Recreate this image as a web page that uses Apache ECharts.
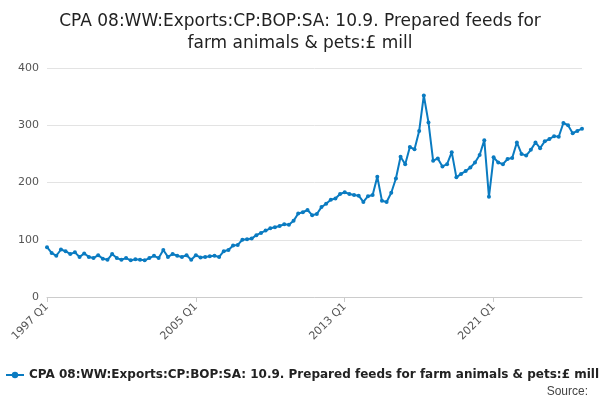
<!DOCTYPE html>
<html>
<head>
<meta charset="utf-8">
<script src="https://cdn.jsdelivr.net/npm/echarts@6/dist/echarts.min.js"></script>
<style>html,body{margin:0;padding:0;background:#fff}#c{width:600px;height:400px}</style>
</head>
<body>
<div id="c"></div>
<script>
// quarterly values, 1997 Q1 .. 2026 Q1
const seriesName = 'CPA 08:WW:Exports:CP:BOP:SA: 10.9. Prepared feeds for farm animals & pets:£ mill'
const values = [
  87, 77, 72, 83, 80, 75, 78, 70, 76, 70, 68, 73, 67, 65, 75, 68,
  65, 68, 64, 66, 65, 64, 68, 72, 68, 82, 70, 75, 72, 70, 73, 65,
  73, 69, 70, 71, 72, 70, 80, 82, 90, 91, 100, 101, 102, 108,
  112, 116, 120, 122, 124, 127, 126, 133, 146, 148, 152, 143, 145, 157, 163,
  170, 172, 180, 183, 180, 178, 177, 166, 176, 178, 210, 168, 166, 182, 207, 245,
  232, 262, 258, 290, 352, 305, 238, 242, 228, 232, 253, 209, 215, 220, 226, 235,
  248, 274, 175, 244, 235, 232, 241, 243, 270, 250, 247, 257, 270, 260, 272, 276,
  281, 280, 304, 300, 286, 290, 294
]
const categories = []
for (let y = 1997; categories.length < values.length; y++) {
  for (let q = 1; q <= 4 && categories.length < values.length; q++) categories.push(y + ' Q' + q)
}
const tickLabels = ['1997 Q1', '2005 Q1', '2013 Q1', '2021 Q1', '2026 Q1']

const chart = echarts.init(document.getElementById('c'))
chart.setOption({
  textStyle: { fontFamily: 'DejaVu Sans' },
  title: {
    text: 'CPA 08:WW:Exports:CP:BOP:SA: 10.9. Prepared feeds for\nfarm animals & pets:£ mill',
    left: 'center', top: 6,
    textStyle: { fontSize: 17, fontWeight: 'normal', color: '#222', lineHeight: 22 }
  },
  grid: { left: 47, right: 18, top: 68, bottom: 103 },
  legend: {
    bottom: 14, left: 0, itemWidth: 18, itemHeight: 8,
    textStyle: { fontSize: 12, fontWeight: 'bold', color: '#222' }
  },
  graphic: [{ type: 'text', right: 12, bottom: 2, style: { text: 'Source:', fontSize: 12, fill: '#444' } }],
  xAxis: {
    type: 'category', data: categories, boundaryGap: false,
    axisLine: { lineStyle: { color: '#ccc' } },
    axisTick: { alignWithLabel: true, interval: (i, v) => tickLabels.includes(v), lineStyle: { color: '#ccc' } },
    axisLabel: {
      interval: (i, v) => tickLabels.includes(v), rotate: 45, color: '#555', fontSize: 11,
      showMaxLabel: true, showMinLabel: true, hideOverlap: false
    }
  },
  yAxis: {
    type: 'value', min: 0, max: 400, interval: 100,
    axisLabel: { color: '#555', fontSize: 11 },
    splitLine: { lineStyle: { color: '#e3e3e3' } }
  },
  series: [{
    name: seriesName, type: 'line', data: values,
    symbol: 'circle', symbolSize: 4, showAllSymbol: true,
    itemStyle: { color: '#0a7bc1' }, lineStyle: { width: 2, color: '#0a7bc1' }
  }]
})
</script>
</body>
</html>
